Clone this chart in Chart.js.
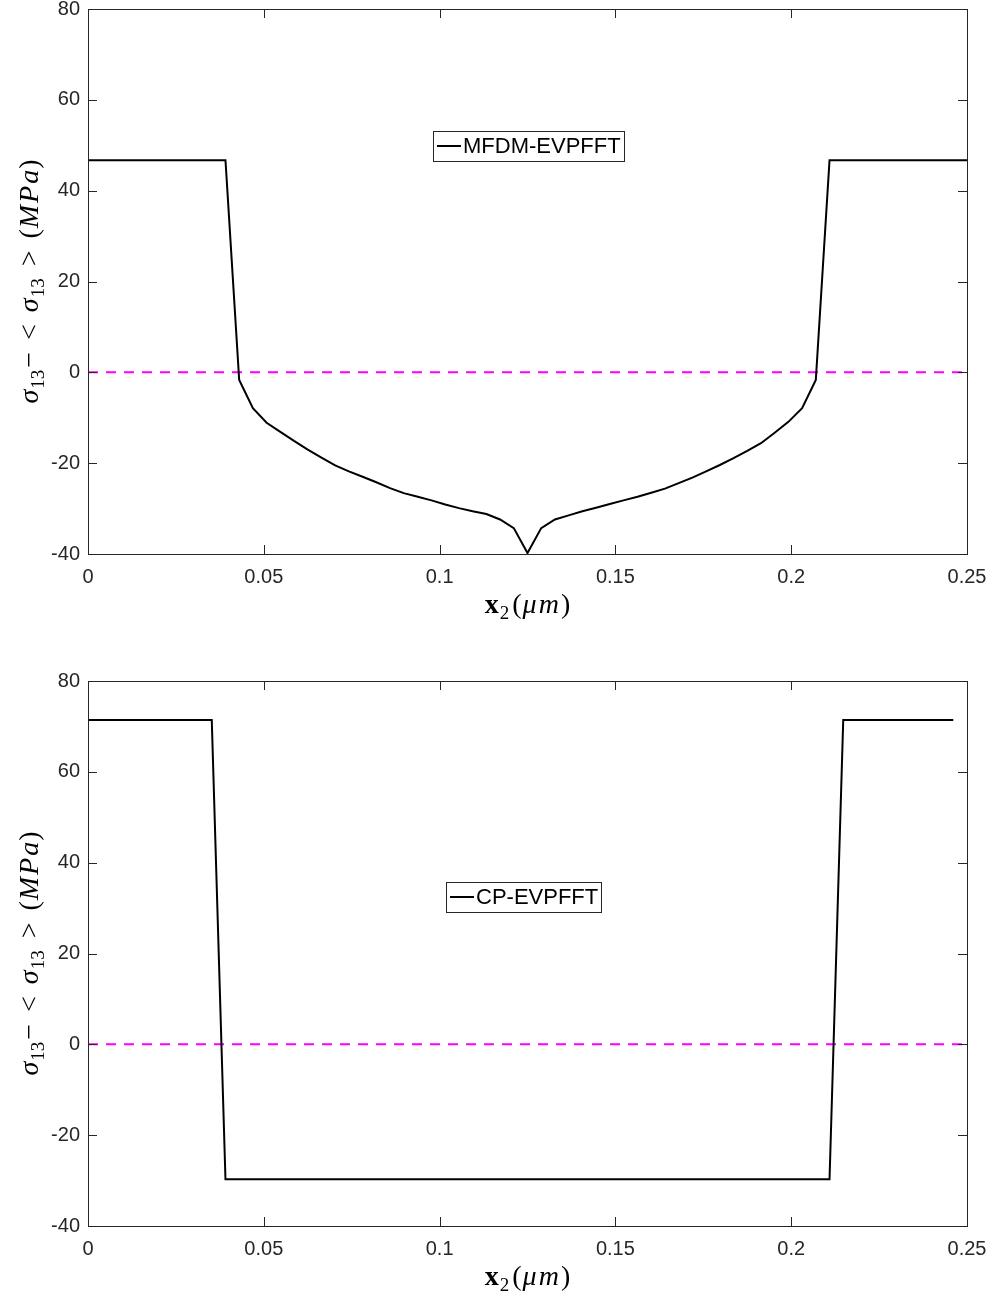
<!DOCTYPE html>
<html>
<head>
<meta charset="utf-8">
<script src="https://cdn.jsdelivr.net/npm/chart.js@4.4.1/dist/chart.umd.min.js"></script>
<style>
  html, body { margin: 0; padding: 0; background: #fff; overflow: hidden; }
  #wrap { position: relative; width: 1000px; height: 1300px; overflow: hidden; }
  #c1 { position: absolute; left: 0; top: -11px; }
  #c2 { position: absolute; left: 0; top: 661px; }
</style>
</head>
<body>
<div id="wrap">
  <canvas id="c1" width="1000" height="640"></canvas>
  <canvas id="c2" width="1000" height="639"></canvas>
</div>
<script>
// ---------- data ----------
const x2Top = [0, 0.0039, 0.0078, 0.0117, 0.0156, 0.0195, 0.0234, 0.0273, 0.0313, 0.0352,
  0.0391, 0.0430, 0.0469, 0.0508, 0.0547, 0.0586, 0.0625, 0.0664, 0.0703, 0.0742,
  0.0781, 0.0820, 0.0859, 0.0898, 0.0938, 0.0977, 0.1016, 0.1055, 0.1094, 0.1133,
  0.1172, 0.1211, 0.1250, 0.1289, 0.1328, 0.1367, 0.1406, 0.1445, 0.1484, 0.1523,
  0.1563, 0.1602, 0.1641, 0.1680, 0.1719, 0.1758, 0.1797, 0.1836, 0.1875, 0.1914,
  0.1953, 0.1992, 0.2031, 0.2070, 0.2109, 0.2148, 0.2188, 0.2227, 0.2266, 0.2305,
  0.2344, 0.2383, 0.2422, 0.2461, 0.2500];
const mfdmStress = [46.7, 46.7, 46.7, 46.7, 46.7, 46.7, 46.7, 46.7, 46.7, 46.7,
  46.7, -1.7, -7.9, -11.1, -13.1, -15.1, -17.0, -18.8, -20.5, -21.8,
  -23.0, -24.2, -25.5, -26.6, -27.4, -28.2, -29.1, -29.9, -30.6, -31.2,
  -32.4, -34.3, -39.8, -34.3, -32.4, -31.5, -30.6, -29.8, -29.0, -28.2,
  -27.4, -26.5, -25.6, -24.4, -23.2, -21.8, -20.4, -18.9, -17.3, -15.6,
  -13.3, -10.9, -7.9, -1.7, 46.7, 46.7, 46.7, 46.7, 46.7, 46.7,
  46.7, 46.7, 46.7, 46.7, 46.7];

const x2Bottom = [0, 0.0039, 0.0078, 0.0117, 0.0156, 0.0195, 0.0234, 0.0273, 0.0313, 0.0352,
  0.0391, 0.0430, 0.0469, 0.0508, 0.0547, 0.0586, 0.0625, 0.0664, 0.0703, 0.0742,
  0.0781, 0.0820, 0.0859, 0.0898, 0.0938, 0.0977, 0.1016, 0.1055, 0.1094, 0.1133,
  0.1172, 0.1211, 0.1250, 0.1289, 0.1328, 0.1367, 0.1406, 0.1445, 0.1484, 0.1523,
  0.1563, 0.1602, 0.1641, 0.1680, 0.1719, 0.1758, 0.1797, 0.1836, 0.1875, 0.1914,
  0.1953, 0.1992, 0.2031, 0.2070, 0.2109, 0.2148, 0.2188, 0.2227, 0.2266, 0.2305,
  0.2344, 0.2383, 0.2422, 0.2461];
const cpStress = [71.4, 71.4, 71.4, 71.4, 71.4, 71.4, 71.4, 71.4, 71.4, 71.4,
  -29.7, -29.7, -29.7, -29.7, -29.7, -29.7, -29.7, -29.7, -29.7, -29.7,
  -29.7, -29.7, -29.7, -29.7, -29.7, -29.7, -29.7, -29.7, -29.7, -29.7,
  -29.7, -29.7, -29.7, -29.7, -29.7, -29.7, -29.7, -29.7, -29.7, -29.7,
  -29.7, -29.7, -29.7, -29.7, -29.7, -29.7, -29.7, -29.7, -29.7, -29.7,
  -29.7, -29.7, -29.7, -29.7, -29.7, 71.4, 71.4, 71.4, 71.4, 71.4,
  71.4, 71.4, 71.4, 71.4];

const zeroLineX = [0, 0.25];
const zeroLineY = [0, 0];

const xTickValues = [0, 0.05, 0.1, 0.15, 0.2, 0.25];
const xTickLabels = ['0', '0.05', '0.1', '0.15', '0.2', '0.25'];
const yTickValues = [-40, -20, 0, 20, 40, 60, 80];
const yTickLabels = ['-40', '-20', '0', '20', '40', '60', '80'];

const topLegend = 'MFDM-EVPFFT';
const bottomLegend = 'CP-EVPFFT';

// ---------- helpers ----------
const AX = '#262626';
const SANS = '"Liberation Sans", Arial, sans-serif';
const SER = '"Liberation Serif", "DejaVu Serif", serif';

function pts(xs, ys) { return xs.map((x, i) => ({ x: x, y: ys[i] })); }

function drawRich(ctx, segs, cx, cy, rotate) {
  ctx.save();
  ctx.translate(cx, cy);
  if (rotate) ctx.rotate(-Math.PI / 2);
  let total = 0;
  segs.forEach(s => { ctx.font = s.font; s.w = ctx.measureText(s.t).width + (s.gap || 0); total += s.w; });
  let x = -total / 2;
  ctx.fillStyle = '#000';
  ctx.textBaseline = 'alphabetic';
  ctx.textAlign = 'left';
  segs.forEach(s => { ctx.font = s.font; ctx.fillText(s.t, x, s.dy || 0); x += s.w; });
  ctx.restore();
}

function yLabelSegs() {
  const it = 'italic 28px ' + SER, up = '28px ' + SER, sb = '19px ' + SER;
  return [
    { t: 'σ', font: it, gap: 1 }, { t: '13', font: sb, dy: 6, gap: 2 }, { t: '−', font: up, gap: 12 },
    { t: '<', font: up, gap: 12 }, { t: 'σ', font: it, gap: 1 }, { t: '13', font: sb, dy: 6, gap: 12 },
    { t: '>', font: up, gap: 12 }, { t: '(', font: up, gap: 1 }, { t: 'M', font: it, gap: 2 },
    { t: 'P', font: it, gap: 2 }, { t: 'a', font: it, gap: 1 }, { t: ')', font: up }
  ];
}
function xLabelSegs() {
  const it = 'italic 28px ' + SER, up = '28px ' + SER, sb = '19px ' + SER;
  return [
    { t: 'x', font: 'bold 28px ' + SER, gap: 1 }, { t: '2', font: sb, dy: 6, gap: 3 },
    { t: '(', font: up, gap: 1 }, { t: 'μ', font: it, gap: 2 }, { t: 'm', font: it, gap: 2 }, { t: ')', font: up }
  ];
}

const framePlugin = {
  id: 'frame',
  afterDraw(chart, args, opts) {
    const ctx = chart.ctx, a = chart.chartArea;
    const xs = chart.scales.x, ys = chart.scales.y;
    ctx.save();
    ctx.strokeStyle = AX;
    ctx.lineWidth = 1;
    ctx.strokeRect(Math.round(a.left) + 0.5, Math.round(a.top) + 0.5,
      Math.round(a.right - a.left), Math.round(a.bottom - a.top));
    const tl = 9;
    ctx.beginPath();
    xTickValues.forEach(v => {
      const px = Math.round(xs.getPixelForValue(v)) + 0.5;
      ctx.moveTo(px, a.bottom); ctx.lineTo(px, a.bottom - tl);
      ctx.moveTo(px, a.top); ctx.lineTo(px, a.top + tl);
    });
    yTickValues.forEach(v => {
      const py = Math.round(ys.getPixelForValue(v)) + 0.5;
      ctx.moveTo(a.left, py); ctx.lineTo(a.left + tl, py);
      ctx.moveTo(a.right, py); ctx.lineTo(a.right - tl, py);
    });
    ctx.stroke();

    // legend box
    const lg = opts.legend;
    ctx.font = '22px ' + SANS;
    const tw = ctx.measureText(lg.text).width;
    const bx = a.left + lg.dx, by = a.top + lg.dy, bw = 30 + tw + 3, bh = 30;
    ctx.fillStyle = '#fff';
    ctx.fillRect(bx, by, bw, bh);
    ctx.strokeStyle = '#262626';
    ctx.lineWidth = 1;
    ctx.strokeRect(Math.round(bx) + 0.5, Math.round(by) + 0.5, Math.round(bw), bh);
    ctx.strokeStyle = '#000';
    ctx.lineWidth = 2;
    ctx.beginPath();
    ctx.moveTo(bx + 4, by + bh / 2); ctx.lineTo(bx + 28, by + bh / 2);
    ctx.stroke();
    ctx.fillStyle = '#000';
    ctx.textBaseline = 'middle';
    ctx.textAlign = 'left';
    ctx.fillText(lg.text, bx + 30, by + bh / 2 + 1);

    // axis titles
    drawRich(ctx, yLabelSegs(), 38, (a.top + a.bottom) / 2, true);
    drawRich(ctx, xLabelSegs(), (a.left + a.right) / 2, a.bottom + 59, false);
    ctx.restore();
  }
};

function makeChart(id, xs, ys, legendText, legendPos, xAxisH) {
  return new Chart(document.getElementById(id), {
    type: 'line',
    data: {
      datasets: [
        { label: legendText, data: pts(xs, ys), borderColor: '#000', borderWidth: 2,
          pointRadius: 0, tension: 0, fill: false },
        { label: 'zero', data: pts(zeroLineX, zeroLineY), borderColor: '#ff00ff', borderWidth: 2,
          borderDash: [10, 8], pointRadius: 0, tension: 0, fill: false }
      ]
    },
    options: {
      responsive: false,
      animation: false,
      layout: { padding: { top: 9, right: 33, left: 0, bottom: 0 } },
      plugins: {
        legend: { display: false },
        tooltip: { enabled: false },
        frame: { legend: { text: legendText, dx: legendPos[0], dy: legendPos[1] } }
      },
      scales: {
        x: {
          type: 'linear', min: 0, max: 0.25,
          afterBuildTicks(s) { s.ticks = xTickValues.map(v => ({ value: v })); },
          afterFit(s) { s.height = xAxisH; },
          grid: { display: false, drawTicks: false },
          border: { display: false },
          ticks: {
            padding: 11, color: AX, maxRotation: 0, autoSkip: false,
            font: { family: SANS, size: 20 },
            callback: (v) => { const i = xTickValues.indexOf(v); return i >= 0 ? xTickLabels[i] : ''; }
          }
        },
        y: {
          type: 'linear', min: -40, max: 80,
          afterBuildTicks(s) { s.ticks = yTickValues.map(v => ({ value: v })); },
          afterFit(s) { s.width = 88; },
          grid: { display: false, drawTicks: false },
          border: { display: false },
          ticks: {
            padding: 8, color: AX, autoSkip: false,
            font: { family: SANS, size: 20 },
            callback: (v) => { const i = yTickValues.indexOf(v); return i >= 0 ? yTickLabels[i] : ''; }
          }
        }
      }
    },
    plugins: [framePlugin]
  });
}

makeChart('c1', x2Top, mfdmStress, topLegend, [345, 122], 640 - 20 - 545);
makeChart('c2', x2Bottom, cpStress, bottomLegend, [358, 201], 639 - 20 - 545);
</script>
</body>
</html>
